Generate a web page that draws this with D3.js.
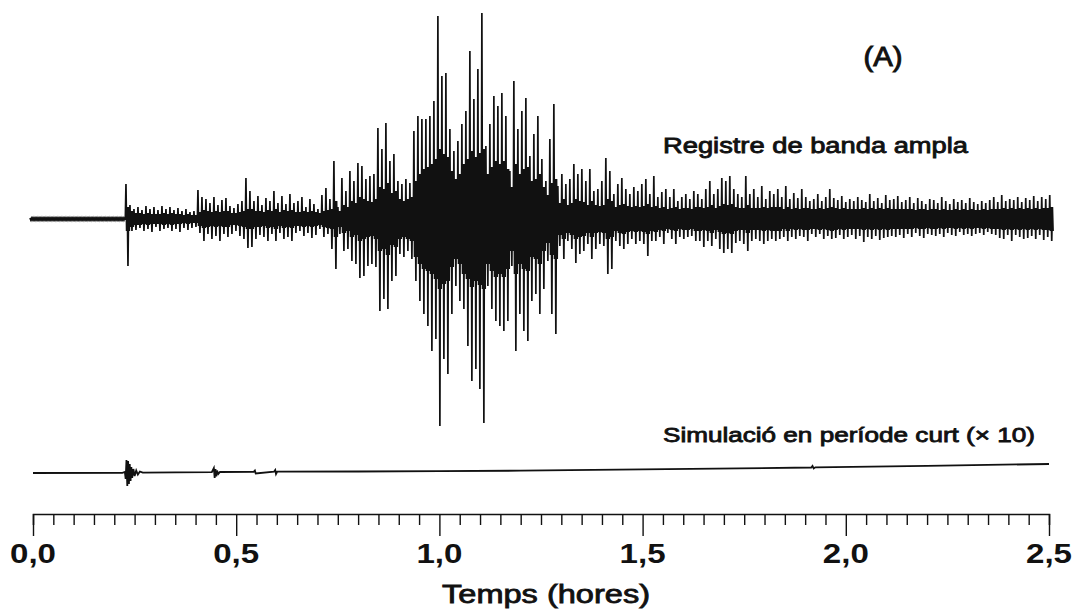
<!DOCTYPE html>
<html><head><meta charset="utf-8">
<script src="https://cdn.jsdelivr.net/npm/d3@7"></script>
<style>body{margin:0;background:#fff}svg{display:block}</style>
</head><body>
<svg id="c" width="1072" height="609"></svg>
<script>
// Broadband record: digitised peak excursions (up / down) per digitising step
const bbStart = -0.0074, bbStep = 0.00984;
const bbUp = [
 1,1,1,1,1,1,1,1,1,1, 1,1,1,1,1,1,1,1,1,1, 1,1,1,1,
 35,14,10,12,9,13,10,12,9,13, 10,12,9,11,8,10,7,8,29,22, 20,16,22,14,19,21,13,11,15,18,
 41,28,18,23,14,21,18,28,16,23, 15,25,16,18,22,12,20,15,10,24, 31,20,58,12,41,28,48,38,56,53,
 40,43,45,91,70,96,58,65,38,35, 40,36,88,103,100,100,103,118,203,143, 146,90,68,78,95,108,168,120,150,206,
 73,95,123,113,126,103,48,138,90,108, 121,63,85,103,60,38,80,115,33,45, 35,40,55,45,50,38,50,28,30,38,
 61,48,25,35,41,30,25,32,28,35, 40,25,43,22,27,30,22,30,18,22, 25,20,28,25,20,30,38,25,30,41,
 38,43,30,25,22,43,25,30,22,33, 20,28,25,30,22,33,20,26,21,30, 22,18,20,25,18,22,30,21,19,23,
 17,20,18,22,19,17,25,18,21,16, 24,19,20,23,17,19,22,16,21,18, 15,20,19,16,22,18,15,20,17,19,
 16,21,17,15,18,16,19,22,17,24, 18,20,19,22,17,21,19,23,18,22, 20,24
];
const bbDown = [
 1,1,1,1,1,1,1,1,1,1, 1,1,1,1,1,1,1,1,1,1, 1,1,1,1,
 47,12,11,9,12,10,13,8,12,10, 9,12,10,13,9,11,9,8,14,22, 15,20,17,22,15,18,15,12,17,20,
 29,28,20,16,18,22,15,22,14,20, 18,22,14,12,17,14,19,16,10,18, 15,30,50,15,32,30,42,45,59,57,
 47,45,48,92,80,90,62,57,35,38, 32,40,62,82,95,107,132,120,207,140, 155,95,67,82,90,127,162,150,170,204,
 67,90,102,107,112,102,47,132,95,112, 122,82,75,95,70,42,95,115,27,40, 22,30,44,35,32,25,40,30,25,27,
 55,50,22,27,30,25,20,25,22,25, 37,22,22,18,25,14,20,25,18,20, 18,17,22,22,28,22,27,20,30,34,
 30,34,24,22,25,32,22,20,22,25, 22,20,22,20,18,22,18,20,17,18, 22,15,18,15,20,17,20,19,16,20,
 18,16,20,17,23,18,20,17,21,19, 18,17,18,16,19,15,18,14,17,19, 15,16,17,15,18,14,16,17,13,16,
 15,17,15,14,16,13,15,16,19,20, 16,22,16,18,20,19,17,20,16,21, 18,22
];
// half-width of the dense (solid black) oscillation band at each step
const bbCore = [
 0.8,0.8,0.8,0.8,0.8,0.8,0.8,0.8,0.8,0.8, 0.8,0.8,0.8,0.8,0.8,0.8,0.8,0.8,0.8,0.8, 0.8,0.8,0.8,0.8,
 12,8,6,6,5,6,5,5,5,6, 5,6,5,5,4,5,4,4,7,9, 8,7,8,7,8,8,6,6,7,8,
 10,10,8,8,7,9,8,10,7,9, 8,9,7,7,8,7,8,7,6,8, 9,10,18,8,14,12,18,16,22,20,
 18,17,20,32,30,36,26,28,20,18, 20,22,38,45,50,52,55,60,70,65, 62,48,40,45,55,60,68,62,66,70,
 45,52,58,55,58,50,32,55,45,50, 52,38,40,45,32,24,36,40,16,20, 14,16,20,18,17,14,18,14,13,14,
 20,18,12,14,15,13,12,13,12,13, 15,12,13,11,12,10,11,12,10,11, 11,10,12,12,11,12,14,11,13,15,
 14,15,12,11,11,14,11,11,11,12, 11,12,12,12,10,12,10,11,10,11, 11,10,10,11,10,11,12,11,10,11,
 10,10,10,10,11,10,11,10,11,10, 11,10,10,10,10,10,10,9,10,10, 9,10,10,9,10,9,9,10,9,10,
 9,10,9,9,10,9,10,10,10,11, 10,11,10,11,10,11,10,11,10,11, 11,12
];
// Short-period simulation (x10): digitised samples
const simTime = [0,0.22,0.226,0.228,0.230,0.232,0.234,0.236,0.238,0.240,0.242,0.244,0.247,0.250,0.254,0.258,0.263,0.27,0.35,0.44,0.445,0.447,0.449,0.451,0.453,0.456,0.46,0.543,0.546,0.548,0.593,0.596,0.598,0.601,0.8,1.0,1.2,1.5,1.915,1.918,1.921,1.925,2.2,2.5];
const simValue = [0,0.2,1,-6,13,-13,12,-11,9,-8,6,-5,4,-3,2.5,-1.5,1.5,0.3,0.6,0.8,5,-5,4,-3.5,2.5,-1,1,1.1,2.5,-0.5,1.3,3,-1,1.3,1.5,1.9,2.3,3.6,5.5,7,4.5,5.7,7.2,9];
// Axis
const majorTicks = [0, 0.5, 1.0, 1.5, 2.0, 2.5];
const minorStep = 0.05;
const axisTitle = "Temps (hores)";
const panelLabel = "(A)";
const bbLabel = "Registre de banda ampla";
const simLabel = "Simulació en període curt (× 10)";

const svg = d3.select("#c");
const x = d3.scaleLinear().domain([0, 2.5]).range([33, 1049]);
const yBB = d3.scaleLinear().domain([-210, 210]).range([429, 9]);
const ySim = d3.scaleLinear().domain([-20, 20]).range([493, 453]);
const font = "'Liberation Sans', Arial, Helvetica, sans-serif";

// broadband trace
const pts = [];
bbUp.forEach((u, i) => {
  const t = bbStart + i * bbStep;
  const dn = bbDown[i];
  const c = Math.min(bbCore[i], u, dn);
  const s = bbStep / 6;
  pts.push([t, u]);
  pts.push([t + s, -c]);
  pts.push([t + 2 * s, c]);
  pts.push([t + 3 * s, -dn]);
  pts.push([t + 4 * s, c]);
  pts.push([t + 5 * s, -c]);
});
svg.append("path")
  .attr("d", d3.line().x(d => x(d[0])).y(d => yBB(d[1]))(pts))
  .attr("fill", "none").attr("stroke", "#111").attr("stroke-width", 1.7)
  .attr("stroke-linejoin", "miter");

// simulation trace
svg.append("path")
  .attr("d", d3.line().x((d, i) => x(simTime[i])).y(d => ySim(d))(simValue))
  .attr("fill", "none").attr("stroke", "#111").attr("stroke-width", 1.8);

// axis
const fmt = d3.formatLocale({decimal: ",", thousands: ".", grouping: [3], currency: ["", "€"]}).format(".1f");
const minor = d3.range(0, 2.5 + 1e-9, minorStep);
const ax = d3.axisBottom(x).tickValues(minor).tickSizeOuter(0)
  .tickSize(11).tickFormat("");
const g = svg.append("g").attr("transform", "translate(0,514)").call(ax);
g.select(".domain").attr("stroke", "#111").attr("stroke-width", 1.6);
g.selectAll(".tick line").attr("stroke", "#111").attr("stroke-width", 1.4)
  .attr("y2", d => (Math.abs(d / 0.5 - Math.round(d / 0.5)) < 1e-6 ? 22 : 11));

svg.append("g").selectAll("text").data(majorTicks).join("text")
  .attr("x", d => x(d)).attr("y", 563)
  .attr("text-anchor", "middle")
  .attr("font-family", font).attr("font-weight", "bold").attr("font-size", 27)
  .attr("textLength", 46).attr("lengthAdjust", "spacingAndGlyphs")
  .attr("fill", "#111")
  .text(d => fmt(d));

function label(txt, cx, y, size, len, sw) {
  svg.append("text").attr("x", cx).attr("y", y).attr("text-anchor", "middle")
    .attr("font-family", font).attr("font-size", size)
    .attr("fill", "#111").attr("stroke", "#111").attr("stroke-width", sw)
    .attr("textLength", len).attr("lengthAdjust", "spacingAndGlyphs")
    .text(txt);
}
label(axisTitle, 546, 603, 25, 208, 0.8);
label(panelLabel, 883, 66, 28, 39, 1.0);
label(bbLabel, 815.5, 153, 22, 305, 0.85);
label(simLabel, 849, 442, 21, 372, 0.85);
</script>
</body></html>
